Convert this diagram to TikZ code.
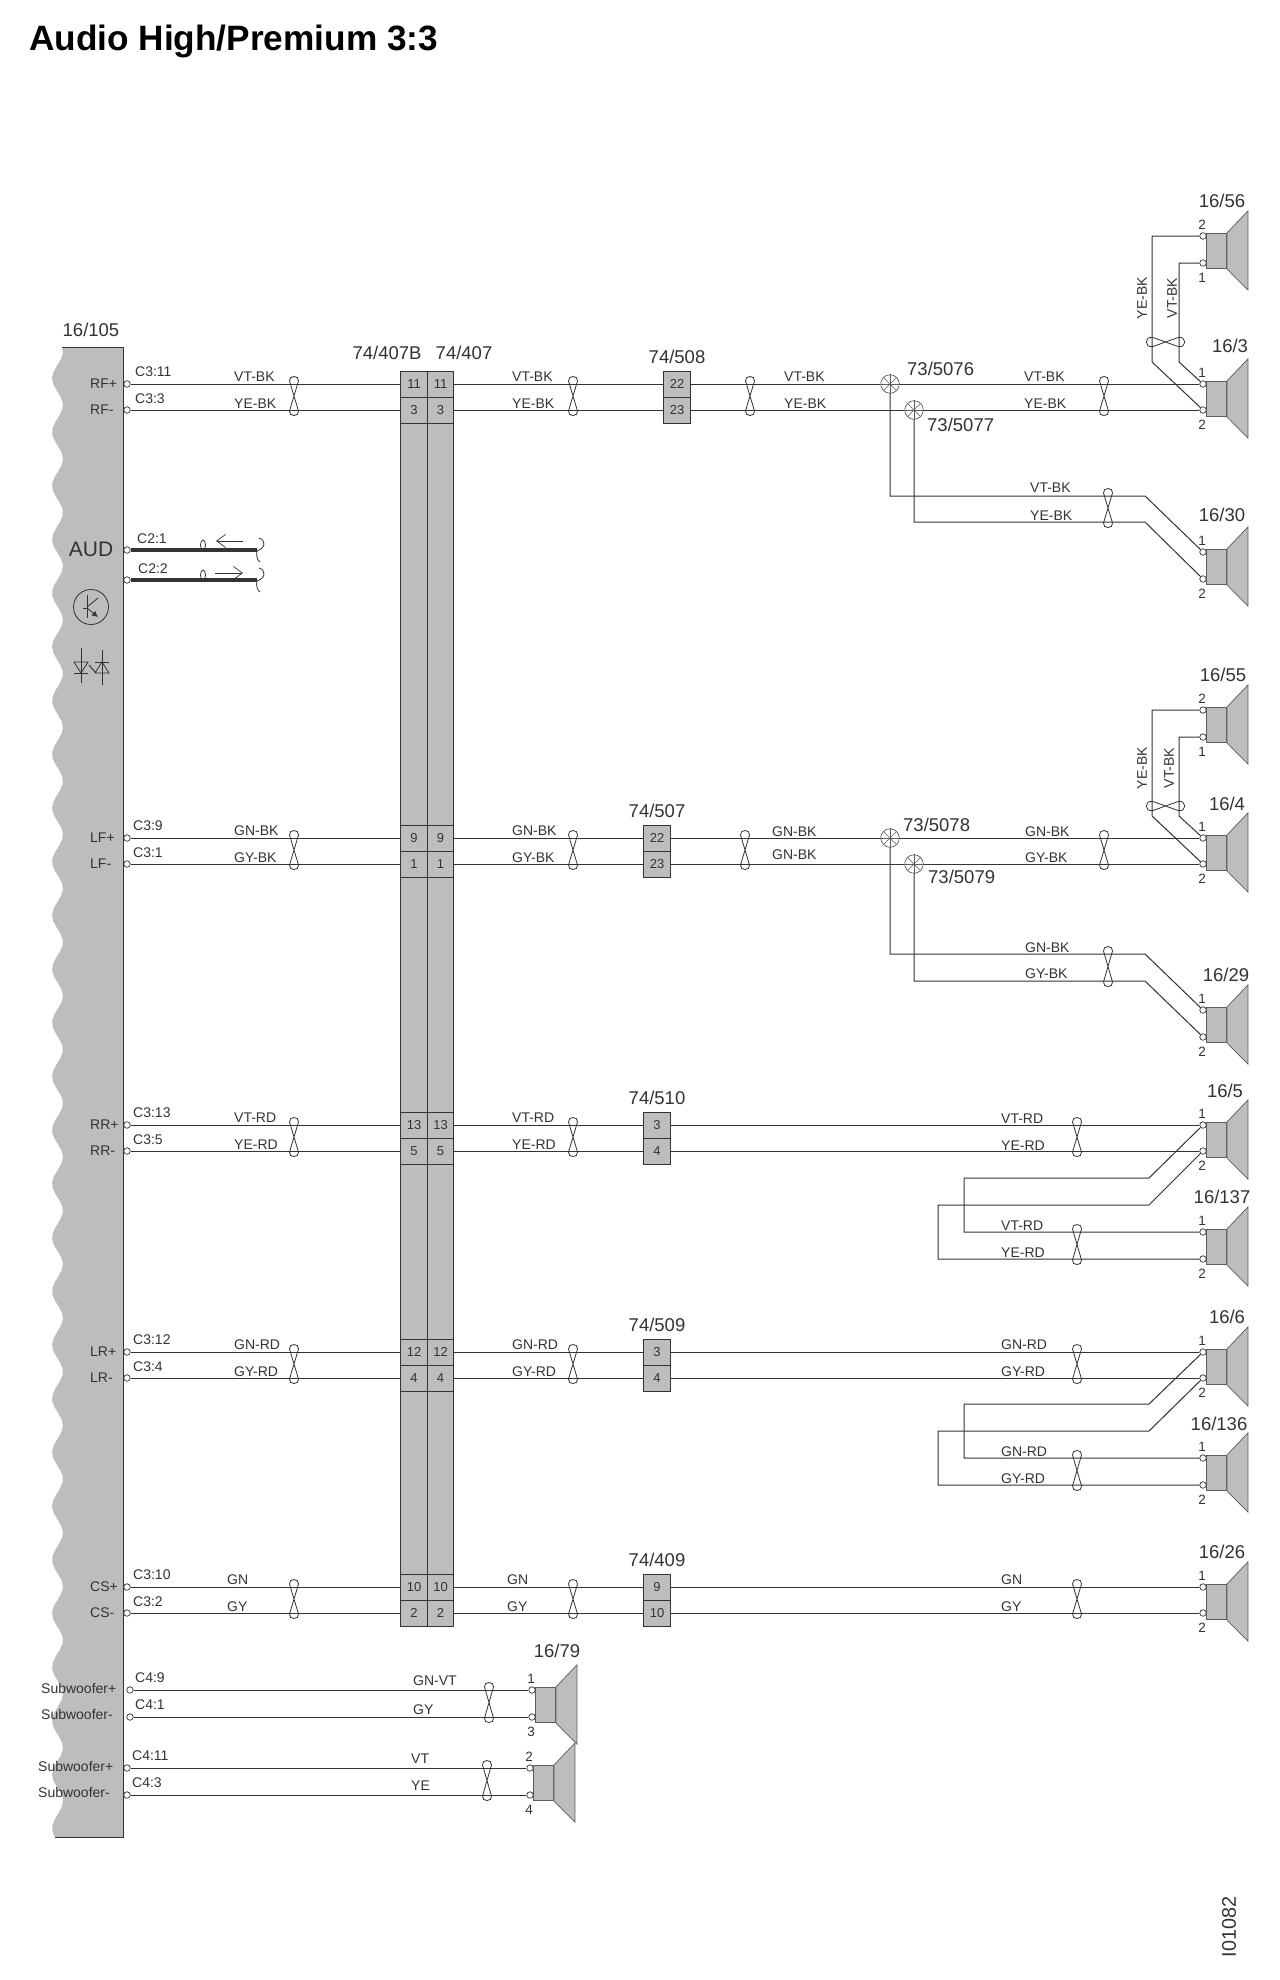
\documentclass[tikz,border=0pt]{standalone}
\usepackage{fontspec}
\setmainfont{Liberation Sans}
\usepackage{tikz}
\usetikzlibrary{shapes, arrows.meta}
\definecolor{ink}{HTML}{333333}
\definecolor{panel}{HTML}{BCBDBF}
\tikzstyle{wire} = [draw=ink, line width=1pt]
\tikzstyle{fine} = [draw=ink, line width=0.8pt]
\tikzstyle{heavy} = [draw=ink, line width=3.2pt]
\tikzstyle{sig} = [draw=ink, line width=0.7pt, -{Straight Barb[length=9pt,width=13pt]}]
\tikzstyle{term} = [circle, draw=ink, fill=white, line width=0.7pt, inner sep=0pt, minimum size=6.5pt]
\tikzstyle{cell} = [rectangle, draw=ink, fill=panel, line width=0.8pt, inner sep=0pt, minimum width=26.5pt, minimum height=26pt, text=ink, font=\fontsize{13}{13}\selectfont]
\tikzstyle{spk} = [rectangle, draw=ink!80, fill=panel, line width=0.9pt, inner sep=0pt, minimum width=20pt, minimum height=35pt, anchor=north west]
\tikzstyle{cone} = [draw=ink!80, fill=panel, line width=0.7pt]
\tikzstyle{junct} = [circle, draw=ink!80, fill=white, line width=0.7pt, inner sep=0pt, minimum size=18.5pt]
\tikzstyle{tag} = [inner sep=0pt, text=ink, anchor=west, yshift=-1pt, font=\fontsize{14}{14}\selectfont]
\tikzstyle{num} = [inner sep=0pt, text=ink, font=\fontsize{13.5}{14}\selectfont]
\tikzstyle{big} = [inner sep=0pt, text=ink, font=\fontsize{18.5}{19}\selectfont]
\newcommand{\wiretwist}[3]{%
  \draw[fine] (#1+4.5,#2-3) .. controls (#1+5.5,#2-9) and (#1-5.5,#2-9) .. (#1-4.5,#2-3)
    -- (#1+4.5,#3+1) .. controls (#1+5.5,#3+7) and (#1-5.5,#3+7) .. (#1-4.5,#3+1) -- cycle;}
\newcommand{\wiretwisth}[3]{%
  \draw[fine] (#1+1,#3-4.5) .. controls (#1-8,#3-6.5) and (#1-8,#3+6.5) .. (#1+1,#3+4.5)
    -- (#2-1,#3-4.5) .. controls (#2+8,#3-6.5) and (#2+8,#3+6.5) .. (#2-1,#3+4.5) -- cycle;}
\newcommand{\speaker}[6]{%
  \node[spk] (#1) at (#2,#3-3) {};
  \draw[cone] (#1.north east) -- ++(21,-22) -- ++(0,79) -- (#1.south east) -- cycle;
  \node[term] (#1a) at (#2-3,#3) {};
  \node[term] (#1b) at (#2-3,#4) {};
  \node[num] (#1p) at (#2-4,#3-11) {#5};
  \node[num] (#1q) at (#2-4,#4+15) {#6};}
\newcommand{\splicept}[3]{%
  \node[junct] (#1) at (#2,#3) {};
  \foreach \a in {0,45,...,315} \draw[ink!80, line width=0.5pt] (#1.center) -- (#1.\a);}

\begin{document}
\begin{tikzpicture}[x=1pt, y=-1pt]
    \useasboundingbox (0,0) rectangle (1279,1980);
    \fill[white] (0,0) rectangle (1279,1980);

    \node[inner sep=0pt, text=black, anchor=west, font=\bfseries\fontsize{35.2}{36}\selectfont] (title) at (29,41) {Audio High/Premium 3:3};

    % control module
    \fill[panel] (123,347) -- (62,347)
        -- plot[domain=347:1837, samples=240] ({57.5-5.5*cos(6.704*(\x-432))}, \x)
        -- (123,1837) -- cycle;
    \draw[wire] (62,347) -- (123,347) -- (123,1837) -- (55,1837);
    \node[big] (unit) at (91,330) {16/105};
    \node[inner sep=0pt, text=ink, font=\fontsize{21}{21}\selectfont] (aud) at (91,549) {AUD};

    \draw[fine] (91,607) circle (17.5);
    \draw[fine] (83,608) -- (87,608);
    \draw[wire] (87,595) -- (87,618);
    \draw[fine] (87,607) -- (98,598);
    \draw[fine, -{Latex[length=6pt,width=6pt]}] (87,608) -- (98,617);
    \draw[fine] (81,648) -- (81,683);
    \draw[fine] (102,650) -- (102,685);
    \draw[fine] (74,662) -- (88,662) -- (81,673) -- cycle;
    \draw[fine] (74,673) -- (88,673);
    \draw[fine] (95,673) -- (109,673) -- (102,662) -- cycle;
    \draw[fine] (95,662) -- (109,662);
    \draw[wire] (89,665) -- (96,673);

    % connector 74/407
    \node[cell, minimum height=1255pt] (col1) at (414,998.5) {};
    \node[cell, minimum height=1255pt] (col2) at (440.5,998.5) {};
    \node[big] (l407b) at (387,353) {74/407B};
    \node[big] (l407) at (464,353) {74/407};

    % signal pairs
    \foreach \nm/\ya/\yb/\pa/\pb/\ca/\cb/\cx/\wa/\wb/\lx/\rx/\sx/\sa/\sb/\lab in {
        RF/384/410/11/3/C3:11/C3:3/135/VT-BK/YE-BK/234/512/677/22/23/508,
        LF/838/864/9/1/C3:9/C3:1/133/GN-BK/GY-BK/234/512/657/22/23/507,
        RR/1125/1151/13/5/C3:13/C3:5/133/VT-RD/YE-RD/234/512/657/3/4/510,
        LR/1352/1378/12/4/C3:12/C3:4/133/GN-RD/GY-RD/234/512/657/3/4/509,
        CS/1587/1613/10/2/C3:10/C3:2/133/GN/GY/227/507/657/9/10/409} {
        \node[term] (\nm t1) at (127,\ya) {};
        \node[term] (\nm t2) at (127,\yb) {};
        \node[tag] (\nm n1) at (90,\ya-1) {\nm+};
        \node[tag] (\nm n2) at (90,\yb-1) {\nm-};
        \node[tag] (\nm c1) at (\cx,\ya-13) {\ca};
        \node[tag] (\nm c2) at (\cx,\yb-12) {\cb};
        \node[cell] (\nm A1) at (414,\ya) {\pa};
        \node[cell] (\nm A2) at (414,\yb) {\pb};
        \node[cell] (\nm B1) at (440.5,\ya) {\pa};
        \node[cell] (\nm B2) at (440.5,\yb) {\pb};
        \node[cell] (\nm S1) at (\sx,\ya) {\sa};
        \node[cell] (\nm S2) at (\sx,\yb) {\sb};
        \node[big] (\nm L) at (\sx,\ya-27) {74/\lab};
        \draw[wire] (\nm t1) -- (\nm A1);
        \draw[wire] (\nm t2) -- (\nm A2);
        \draw[wire] (\nm B1) -- (\nm S1);
        \draw[wire] (\nm B2) -- (\nm S2);
        \node[tag] (\nm w1) at (\lx,\ya-8) {\wa};
        \node[tag] (\nm w2) at (\lx,\yb-7) {\wb};
        \node[tag] (\nm x1) at (\rx,\ya-8) {\wa};
        \node[tag] (\nm x2) at (\rx,\yb-7) {\wb};
        \wiretwist{294}{\ya}{\yb}
        \wiretwist{573}{\ya}{\yb}
    }

    % AUD signal lines
    \node[term] (aud1) at (127,550) {};
    \node[term] (aud2) at (127,580) {};
    \coordinate (aud1e) at (257,550);
    \coordinate (aud2e) at (257,580);
    \draw[heavy] (aud1) -- (aud1e);
    \draw[heavy] (aud2) -- (aud2e);
    \node[tag] (audc1) at (137,538) {C2:1};
    \node[tag] (audc2) at (138,568) {C2:2};
    \draw[fine] (203,545) ellipse (2.5 and 5);
    \draw[fine] (203,575) ellipse (2.5 and 5);
    \draw[sig] (243,541) -- (216,541);
    \draw[sig] (215,573) -- (243,573);
    \draw[fine] (259,538) .. controls (266,540) and (266,548) .. (257,551) .. controls (256,555) and (257,560) .. (260,562);
    \draw[fine] (259,568) .. controls (266,570) and (266,578) .. (257,581) .. controls (256,585) and (257,590) .. (260,592);

    % speakers
    \speaker{s56}{1206}{236}{263}{2}{1}
    \speaker{s3}{1206}{384}{410}{1}{2}
    \speaker{s30}{1206}{552}{579}{1}{2}
    \speaker{s55}{1206}{710}{737}{2}{1}
    \speaker{s4}{1206}{838}{864}{1}{2}
    \speaker{s29}{1206}{1010}{1037}{1}{2}
    \speaker{s5}{1206}{1125}{1151}{1}{2}
    \speaker{s137}{1206}{1232}{1259}{1}{2}
    \speaker{s6}{1206}{1352}{1378}{1}{2}
    \speaker{s136}{1206}{1458}{1485}{1}{2}
    \speaker{s26}{1206}{1587}{1613}{1}{2}
    \speaker{s79a}{535}{1690}{1717}{1}{3}
    \speaker{s79b}{533}{1768}{1795}{2}{4}
    \node[big] (l56) at (1222,201) {16/56};
    \node[big] (l3) at (1230,346) {16/3};
    \node[big] (l30) at (1222,515) {16/30};
    \node[big] (l55) at (1223,675) {16/55};
    \node[big] (l4) at (1227,804) {16/4};
    \node[big] (l29) at (1226,975) {16/29};
    \node[big] (l5) at (1225,1091) {16/5};
    \node[big] (l137) at (1222,1197) {16/137};
    \node[big] (l6) at (1227,1317) {16/6};
    \node[big] (l136) at (1219,1424) {16/136};
    \node[big] (l26) at (1222,1552) {16/26};
    \node[big] (l79) at (557,1651) {16/79};

    % front pair RF
    \splicept{j5076}{890}{384}
    \splicept{j5077}{914}{410}
    \node[big, anchor=west] (l5076) at (907,369) {73/5076};
    \node[big, anchor=west] (l5077) at (927,425) {73/5077};
    \draw[wire] (RFS1) -- (j5076);
    \draw[wire] (RFS2) -- (j5077);
    \draw[wire] (j5076) -- (s3a);
    \draw[wire] (j5077) -- (s3b);
    \wiretwist{750}{384}{410}
    \wiretwist{1104}{384}{410}
    \node[tag] (t508a) at (784,376) {VT-BK};
    \node[tag] (t508b) at (784,403) {YE-BK};
    \node[tag] (t3a) at (1024,376) {VT-BK};
    \node[tag] (t3b) at (1024,403) {YE-BK};
    \coordinate (k30a) at (1145,496);
    \coordinate (k30b) at (1145,522);
    \draw[wire] (j5076) |- (k30a) -- (s30a);
    \draw[wire] (j5077) |- (k30b) -- (s30b);
    \wiretwist{1108}{496}{522}
    \node[tag] (t30a) at (1030,487) {VT-BK};
    \node[tag] (t30b) at (1030,515) {YE-BK};
    \coordinate (k56a) at (1152,362);
    \coordinate (k56b) at (1179,362);
    \draw[wire] (s56a) -| (k56a) -- (s3b);
    \draw[wire] (s56b) -| (k56b) -- (s3a);
    \wiretwisth{1152}{1179}{342}
    \node[tag, anchor=center, rotate=90, yshift=1pt] (t56a) at (1143,297) {YE-BK};
    \node[tag, anchor=center, rotate=90, yshift=1pt] (t56b) at (1173,297) {VT-BK};

    % front pair LF
    \splicept{j5078}{890}{838}
    \splicept{j5079}{914}{864}
    \node[big, anchor=west] (l5078) at (903,825) {73/5078};
    \node[big, anchor=west] (l5079) at (928,877) {73/5079};
    \draw[wire] (LFS1) -- (j5078);
    \draw[wire] (LFS2) -- (j5079);
    \draw[wire] (j5078) -- (s4a);
    \draw[wire] (j5079) -- (s4b);
    \wiretwist{745}{838}{864}
    \wiretwist{1104}{838}{864}
    \node[tag] (t507a) at (772,831) {GN-BK};
    \node[tag] (t507b) at (772,854) {GN-BK};
    \node[tag] (t4a) at (1025,831) {GN-BK};
    \node[tag] (t4b) at (1025,857) {GY-BK};
    \coordinate (k29a) at (1145,954);
    \coordinate (k29b) at (1145,981);
    \draw[wire] (j5078) |- (k29a) -- (s29a);
    \draw[wire] (j5079) |- (k29b) -- (s29b);
    \wiretwist{1108}{954}{981}
    \node[tag] (t29a) at (1025,947) {GN-BK};
    \node[tag] (t29b) at (1025,973) {GY-BK};
    \coordinate (k55a) at (1152,816);
    \coordinate (k55b) at (1179,816);
    \draw[wire] (s55a) -| (k55a) -- (s4b);
    \draw[wire] (s55b) -| (k55b) -- (s4a);
    \wiretwisth{1152}{1179}{806}
    \node[tag, anchor=center, rotate=90, yshift=1pt] (t55a) at (1143,767) {YE-BK};
    \node[tag, anchor=center, rotate=90, yshift=1pt] (t55b) at (1170,767) {VT-BK};

    % rear pairs
    \draw[wire] (RRS1) -- (s5a);
    \draw[wire] (RRS2) -- (s5b);
    \wiretwist{1077}{1125}{1151}
    \node[tag] (t5a) at (1001,1118) {VT-RD};
    \node[tag] (t5b) at (1001,1145) {YE-RD};
    \coordinate (k137a) at (1149,1178);
    \coordinate (k137b) at (1149,1205);
    \draw[wire] (s5a) -- (k137a) -- ++(-185,0) |- (s137a);
    \draw[wire] (s5b) -- (k137b) -- ++(-211,0) |- (s137b);
    \wiretwist{1077}{1232}{1259}
    \node[tag] (t137a) at (1001,1225) {VT-RD};
    \node[tag] (t137b) at (1001,1252) {YE-RD};

    \draw[wire] (LRS1) -- (s6a);
    \draw[wire] (LRS2) -- (s6b);
    \wiretwist{1077}{1352}{1378}
    \node[tag] (t6a) at (1001,1344) {GN-RD};
    \node[tag] (t6b) at (1001,1371) {GY-RD};
    \coordinate (k136a) at (1149,1404);
    \coordinate (k136b) at (1149,1431);
    \draw[wire] (s6a) -- (k136a) -- ++(-185,0) |- (s136a);
    \draw[wire] (s6b) -- (k136b) -- ++(-211,0) |- (s136b);
    \wiretwist{1077}{1458}{1485}
    \node[tag] (t136a) at (1001,1451) {GN-RD};
    \node[tag] (t136b) at (1001,1478) {GY-RD};

    % centre
    \draw[wire] (CSS1) -- (s26a);
    \draw[wire] (CSS2) -- (s26b);
    \wiretwist{1077}{1587}{1613}
    \node[tag] (t26a) at (1001,1579) {GN};
    \node[tag] (t26b) at (1001,1606) {GY};

    % subwoofers
    \node[term] (sw1) at (130,1690) {};
    \node[term] (sw2) at (130,1717) {};
    \node[term] (sw3) at (127,1768) {};
    \node[term] (sw4) at (127,1795) {};
    \draw[wire] (sw1) -- (s79aa);
    \draw[wire] (sw2) -- (s79ab);
    \draw[wire] (sw3) -- (s79ba);
    \draw[wire] (sw4) -- (s79bb);
    \node[tag] (sn1) at (41,1687) {Subwoofer+};
    \node[tag] (sn2) at (41,1713) {Subwoofer-};
    \node[tag] (sn3) at (38,1765) {Subwoofer+};
    \node[tag] (sn4) at (38,1791) {Subwoofer-};
    \node[tag] (sc1) at (135,1677) {C4:9};
    \node[tag] (sc2) at (135,1704) {C4:1};
    \node[tag] (sc3) at (132,1755) {C4:11};
    \node[tag] (sc4) at (132,1782) {C4:3};
    \node[tag] (sw1t) at (413,1680) {GN-VT};
    \node[tag] (sw2t) at (413,1709) {GY};
    \node[tag] (sw3t) at (411,1758) {VT};
    \node[tag] (sw4t) at (411,1785) {YE};
    \wiretwist{489}{1690}{1717}
    \wiretwist{487}{1768}{1795}

    \node[inner sep=0pt, text=ink, font=\fontsize{19.8}{20}\selectfont, rotate=90] (refno) at (1229,1927) {I01082};
\end{tikzpicture}
\end{document}
